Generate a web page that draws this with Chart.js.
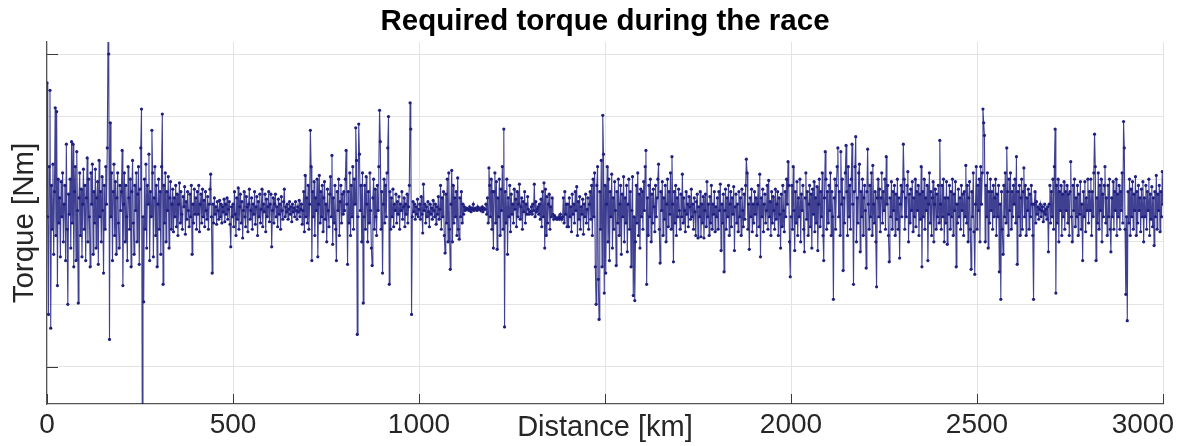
<!DOCTYPE html>
<html>
<head>
<meta charset="utf-8">
<script src="https://cdn.jsdelivr.net/npm/chart.js@4.4.1/dist/chart.umd.min.js"></script>
<style>
  html, body { margin: 0; padding: 0; background: #ffffff; }
  #wrap { width: 1184px; height: 446px; position: relative; }
</style>
</head>
<body>
<div id="wrap"><canvas id="c"></canvas></div>
<script>
// ---- data ----
const stepKm = 2; // sample spacing of the series below, km
// torque values, one line per 100 km
const torque = [
  127,20,-58,60,121,-69,45,10,62,-10, 40,107,5,104,-35,50,15,35,-12,48, 20,55,0,30,45,-15,78,10,-50,38, 22,50,-5,80,15,78,-20,40,60,-15, 72,25,-49,35,55,5,42,-12,30,58,
  10,45,-15,35,67,0,50,20,-20,55, 30,62,-10,40,15,58,-5,35,48,-18, 65,20,40,0,52,25,-25,45,10,60, 30,75,162,150,-78,95,20,55,-15,40, 62,5,48,-10,35,55,15,-5,45,25,
  40,73,-35,30,55,0,45,20,-15,60, 35,10,50,-20,40,65,15,-10,45,25, 55,0,38,60,-18,42,75,106,-135,20, -48,50,10,62,-5,45,30,70,-15,40, 20,89,55,-12,35,60,5,45,-20,30,
  50,10,40,-10,60,102,-34,45,15,55, 0,40,25,52,-5,35,48,10,30,42, 8,35,20,45,12,38,5,30,47,15, 40,22,10,36,28,44,6,32,18,40, 25,12,38,20,45,-10,30,15,42,22,
  35,10,40,22,45,8,30,38,15,42, 20,33,12,40,25,18,36,10,30,42, 54,20,-25,30,15,35,22,28,14,32, 25,18,33,20,30,15,28,24,34,16, 30,22,35,18,26,32,14,-4,28,20,
  30,12,40,22,5,35,18,43,10,28, 38,15,32,3,25,40,20,12,36,28, 8,30,42,18,25,35,10,30,22,40, 14,28,36,5,32,20,38,15,26,42, 12,30,24,38,8,34,20,28,40,16,
  30,38,-4,25,35,15,30,38,20,28, 12,34,22,30,10,36,25,18,32,42, 20,28,24,30,18,26,32,22,28,16, 30,24,27,20,32,25,18,28,24,33, 20,26,30,14,25,40,8,53,20,35,
  15,45,10,30,89,60,-15,40,20,48, 5,35,25,50,-12,30,53,15,40,20, 45,8,35,48,18,30,0,42,25,12, 38,52,20,69,-2,35,15,45,10,-15, 40,25,50,5,32,45,15,38,22,40,
  25,50,73,30,-18,40,15,55,5,45, 20,60,10,50,30,91,65,-74,20,94, 70,25,45,0,55,-49,20,45,10,52, 30,0,40,15,55,25,-5,-19,35,50, 10,42,20,5,45,25,60,105,80,10,
  40,-25,30,50,15,45,20,55,75,100, -34,40,10,35,20,42,12,30,25,38, 15,32,22,36,10,30,25,40,18,28, 35,12,30,22,38,15,28,45,111,90, -58,20,32,24,30,18,28,22,34,20,
  26,30,18,36,22,7,46,25,30,15, 28,20,32,24,12,30,22,27,18,33, 25,20,30,14,28,22,36,18,26,45, 10,35,20,40,5,-9,38,15,50,0, 55,10,-22,30,57,0,45,15,35,20,
  40,5,51,10,2,35,20,40,15,30, 22,28,25,26,27,26,26,25,28,26, 24,27,26,30,25,26,27,26,25,28, 26,26,27,25,26,28,24,27,26,26, 30,22,35,15,59,45,20,50,10,40,
  -5,40,55,15,48,-6,35,20,50,5, 42,25,60,10,90,-68,40,15,50,-10, 35,20,45,8,38,22,30,15,42,26, 34,12,40,20,30,46,18,28,35,10, 32,24,40,15,30,22,36,26,22,24,
  24,28,22,30,25,46,20,32,24,26, 28,22,30,18,34,12,40,20,47,-5, 42,5,36,15,30,38,10,28,20,35, 22,18,21,20,19,18,18,19,20,18, 22,19,18,20,35,15,40,22,30,12,
  30,12,35,20,28,8,38,22,30,15, 40,25,44,5,32,18,36,10,28,22, 34,6,30,20,38,15,26,35,10,30, 40,18,45,5,50,20,55,-20,-50,45, 60,-30,-62,40,10,65,-20,101,70,-41,
  45,-25,30,60,0,50,-15,40,20,54, -5,35,10,48,25,-19,40,15,50,5, 30,45,-10,38,20,52,0,35,15,45, -8,30,50,10,40,-20,25,52,-43,20, -47,0,45,15,55,5,38,-5,42,20,
  40,10,48,25,60,73,-34,35,5,45, 20,50,0,38,15,42,28,8,45,20, 35,50,62,10,-17,40,25,48,5,35, 18,45,0,30,50,12,40,22,55,10, 68,30,-16,40,15,45,5,35,20,42,
  25,10,38,20,54,15,35,25,8,40, 22,30,12,36,28,18,42,20,30,10, 35,24,5,32,38,3,28,20,40,4, 30,15,36,3,25,38,12,48,20,30, 5,36,15,45,10,30,22,40,8,28,
  20,35,10,40,25,46,-7,30,15,38, -24,25,42,10,35,20,45,5,30,40, 12,35,22,44,-7,28,38,15,30,8, 40,20,35,5,42,25,12,38,18,45, 66,55,10,30,-6,35,20,42,8,30,
  15,40,22,35,5,30,45,12,54,-12, 35,20,42,8,30,38,15,25,45,10, 49,20,32,5,40,15,36,25,10,42, 18,30,40,5,35,22,-5,38,12,45, 25,8,40,20,50,30,64,45,0,-28,
  20,45,10,60,25,-7,40,15,48,5, 35,20,50,0,38,25,45,10,-8,35, 55,18,40,5,30,45,12,38,-5,42, 22,48,8,35,15,44,-7,30,50,12, 40,20,55,5,-15,35,72,50,10,40,
  15,45,25,55,5,40,20,-46,35,50, 10,45,60,75,20,40,5,72,30,50, -23,35,15,55,77,40,5,60,20,45, 10,50,78,30,-34,40,60,84,0,35, 15,55,62,-8,40,20,50,5,35,45,
  25,-21,40,74,30,10,45,20,55,5, 61,30,15,40,0,-36,35,50,20,42, 8,35,55,15,40,25,50,10,68,30, 45,5,-16,35,20,48,10,40,25,45, 5,38,18,50,10,35,-13,30,45,20,
  40,78,50,10,35,20,45,56,0,38, 15,42,25,48,8,35,20,50,12,40, 25,45,5,38,18,60,-20,40,20,50, 10,35,25,45,-15,30,55,15,40,5, 35,48,0,30,42,10,38,20,45,15,
  81,30,10,45,20,50,0,35,15,48, -2,35,22,45,10,40,20,50,5,38, 25,48,-20,30,15,42,20,35,10,45, 25,38,5,40,20,61,15,45,0,35, 48,10,-22,40,20,55,8,-26,30,60,
  10,45,25,50,0,60,30,55,106,95, 85,0,45,20,55,-5,40,15,50,25, 40,10,45,20,35,50,5,38,20,45, -24,30,-46,40,10,-10,45,20,55,15, 75,40,5,50,25,55,10,40,20,45,
  30,50,15,68,-18,40,20,45,5,35, 50,10,40,59,20,45,5,35,25,42, 10,38,20,45,30,5,-46,30,40,15, 32,22,28,18,26,30,20,25,28,16, 24,30,22,26,18,28,-8,30,45,15,
  40,20,50,10,60,90,-41,45,15,50, 0,40,25,45,5,38,20,48,10,40, 25,45,15,38,5,40,64,20,0,45, 25,50,12,35,20,45,5,38,22,48, 10,30,-15,40,20,48,8,35,25,50,
  15,40,25,50,5,40,20,55,86,60, -15,35,15,55,10,45,25,50,0,38, 20,45,60,15,35,5,45,20,50,10, -8,35,20,48,10,40,25,50,5,38, 20,45,10,40,25,55,15,96,75,10,
  -42,20,-63,40,15,50,5,42,20,48, 10,38,25,52,5,40,15,45,25,35, 8,42,20,48,0,35,20,45,10,40, 25,50,5,38,18,44,12,35,-3,40, 20,53,10,38,25,45,8,40,20,56,
  30
];
const titleText = 'Required torque during the race';
const xTickValues = [0, 500, 1000, 1500, 2000, 2500, 3000];
const xTickLabels = ['0', '500', '1000', '', '2000', '2500', '3000'];
const yGridValues = [-100, -50, 0, 50, 100, 150];
const yTickMarks = [-100, 150];
const yMin = -129.6, yMax = 159.6;

const points = torque.map((v, i) => ({ x: i * stepKm, y: v }));

const FONT = '"Liberation Sans", Arial, Helvetica, sans-serif';
const TXT = '#262626';

const axisDecor = {
  id: 'axisDecor',
  afterDraw(chart) {
    const { ctx, chartArea: a, scales: { x, y } } = chart;
    ctx.save();
    ctx.strokeStyle = '#3a3a3a';
    ctx.lineWidth = 1;
    ctx.beginPath();
    xTickValues.forEach(v => {
      const px = Math.round(x.getPixelForValue(v)) + 0.5;
      ctx.moveTo(px, a.bottom);
      ctx.lineTo(px, a.bottom - 10);
    });
    yTickMarks.forEach(v => {
      const py = Math.round(y.getPixelForValue(v)) + 0.5;
      ctx.moveTo(a.left, py);
      ctx.lineTo(a.left + 11, py);
    });
    ctx.stroke();
    ctx.fillStyle = TXT;
    ctx.font = '28px ' + FONT;
    ctx.textAlign = 'center';
    ctx.textBaseline = 'alphabetic';
    xTickValues.forEach((v, i) => {
      if (!xTickLabels[i]) return;
      let px = x.getPixelForValue(v);
      const w = ctx.measureText(xTickLabels[i]).width;
      px = Math.min(px, chart.width - 10 - w / 2);
      ctx.fillText(xTickLabels[i], px, 433);
    });
    // title, centred over the axes
    ctx.fillStyle = '#000000';
    ctx.font = 'bold 29.5px ' + FONT;
    ctx.fillText(titleText, (a.left + a.right) / 2, 30);
    ctx.restore();
  }
};

new Chart(document.getElementById('c'), {
  type: 'line',
  data: {
    datasets: [{
      data: points,
      borderColor: 'rgba(30,30,128,0.85)',
      borderWidth: 1.1,
      pointRadius: 1.6,
      pointBackgroundColor: '#1f1f80',
      pointBorderWidth: 0,
      pointHoverRadius: 0,
      tension: 0,
      fill: false
    }]
  },
  options: {
    responsive: true,
    maintainAspectRatio: false,
    animation: false,
    events: [],
    layout: { padding: { left: 0, right: 21, top: 42, bottom: 0 } },
    plugins: {
      legend: { display: false },
      tooltip: { enabled: false },
      title: { display: false }
    },
    scales: {
      x: {
        type: 'linear',
        min: 0, max: 3000,
        afterBuildTicks: s => { s.ticks = xTickValues.map(v => ({ value: v })); },
        afterFit: s => { s.height = 42; },
        ticks: { display: false },
        grid: { color: '#e3e3e3', lineWidth: 1, drawTicks: false, tickLength: 0 },
        border: { display: true, color: '#555555', width: 1.2 },
        title: {
          display: true, text: 'Distance [km]', color: TXT,
          font: { family: FONT, size: 29, lineHeight: 1.2 },
          padding: { top: 0, bottom: 0.6 }
        }
      },
      y: {
        type: 'linear',
        min: yMin, max: yMax,
        afterBuildTicks: s => { s.ticks = yGridValues.map(v => ({ value: v })); },
        afterFit: s => { s.width = 47; },
        ticks: { display: false },
        grid: { color: '#e3e3e3', lineWidth: 1, drawTicks: false, tickLength: 0 },
        border: { display: true, color: '#555555', width: 1.2 },
        title: {
          display: true, text: 'Torque [Nm]', color: TXT,
          font: { family: FONT, size: 29.5, lineHeight: 1.2 },
          padding: { top: 7.5, bottom: 0 }
        }
      }
    }
  },
  plugins: [axisDecor]
});
</script>
</body>
</html>
